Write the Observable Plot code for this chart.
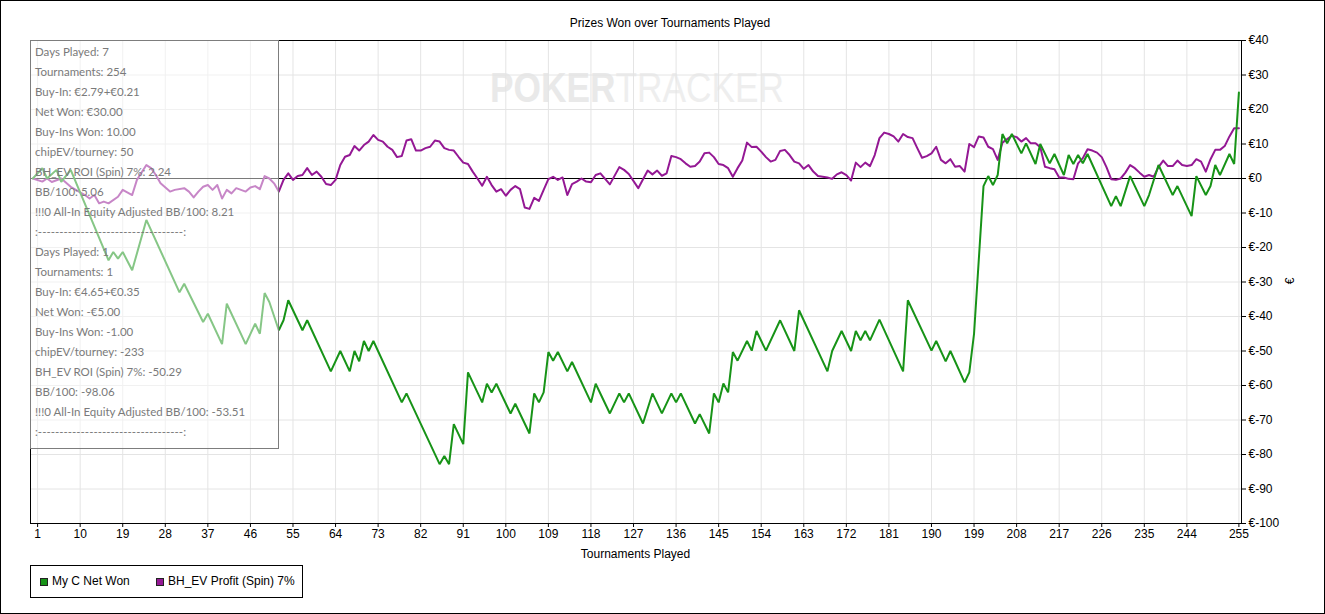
<!DOCTYPE html>
<html>
<head>
<meta charset="utf-8">
<script src="https://cdn.jsdelivr.net/npm/d3@7"></script>
<script src="https://cdn.jsdelivr.net/npm/@observablehq/plot@0.6"></script>
<style>
  html, body { margin: 0; padding: 0; background: #fff; }
  #wrap { position: relative; width: 1325px; height: 614px; overflow: hidden; background: #fff; font-family: "Liberation Sans", Arial, sans-serif; }
  #wrap .abs { position: absolute; }
  #border { left: 0; top: 0; width: 1323px; height: 612px; border: 1px solid #000; pointer-events: none; z-index: 10; }
  #title { top: 16px; left: 0; width: 1340px; text-align: center; font-size: 12px; color: #000; }
  #xlabel { top: 547px; left: 30px; width: 1211px; text-align: center; font-size: 12px; color: #000; }
  #ylabel { left: 1287px; top: 274px; font-size: 12px; transform: rotate(-90deg); transform-origin: center; }
  #watermark { left: 490px; top: 64px; font-size: 42px; white-space: nowrap; transform: scaleX(0.84); transform-origin: left top; z-index: 0; }
  #chart { left: 0; top: 0; z-index: 1; }
  #tip { left: 30px; top: 40px; width: 249px; height: 409px; background: rgba(255,255,255,0.48); border: 1px solid #7d7d7d; z-index: 5;
         font-family: "Segoe UI", Lato, "Open Sans", sans-serif; font-size: 11.5px; color: #7a7a7a; line-height: 20px; padding: 1px 0 0 4px; box-sizing: border-box; white-space: nowrap; }
  #legend { left: 30px; top: 565px; width: 273px; height: 33px; border: 1px solid #000; box-sizing: border-box; font-size: 12px; z-index: 5; }
  .sw { position: absolute; top: 12px; width: 8px; height: 8px; border: 1px solid #222; box-sizing: border-box; }
  .lt { position: absolute; top: 8px; white-space: nowrap; }
</style>
</head>
<body>
<div id="wrap">
  <div id="watermark" class="abs"><span style="font-weight:bold;color:#e9e9e9">POKER</span><span style="color:#eeeeee">TRACKER</span></div>
  <div id="chart" class="abs"></div>
  <div id="title" class="abs">Prizes Won over Tournaments Played</div>
  <div id="xlabel" class="abs">Tournaments Played</div>
  <div id="ylabel" class="abs">€</div>
  <div id="tip" class="abs"></div>
  <div id="legend" class="abs"></div>
  <div id="border" class="abs"></div>
</div>
<script>
// ---- Data ----
const seriesNames = ["My C Net Won", "BH_EV Profit (Spin) 7%"];
const seriesColors = ["#179317", "#941894"];

const xTicks = [1,10,19,28,37,46,55,64,73,82,91,100,109,118,127,136,145,154,163,172,181,190,199,208,217,226,235,244,255];
const yTicks = [40,30,20,10,0,-10,-20,-30,-40,-50,-60,-70,-80,-90,-100];

const netWonTournament = [0,2,3,5,6,8,16,17,18,19,21,24,31,32,36,37,40,41,45,47,48,49,50,52,53,54,57,58,63,65,67,68,69,70,71,72,78,79,86,87,88,89,91,92,95,96,97,98,101,102,105,106,107,108,109,110,111,113,114,118,119,122,124,125,126,129,131,133,135,136,137,140,141,143,144,145,146,147,148,149,151,152,153,155,158,161,162,168,169,171,173,174,175,176,177,179,184,185,190,191,193,194,197,198,199,201,202,203,204,205,206,207,209,210,212,213,215,216,218,219,220,221,222,223,228,229,230,232,235,236,238,241,242,245,246,248,249,250,251,253,254,255];
const netWonValue = [0,3,0,2.5,-1,2.5,-23.7,-21.3,-23.2,-21.3,-26.6,-12,-33,-30.5,-41.6,-39.2,-48,-36.3,-48,-42.1,-45,-33.2,-35.8,-44,-41.1,-35.3,-44,-41.1,-55.9,-50,-55.9,-50,-53,-47.1,-50,-47.1,-64.9,-62.3,-82.8,-80.4,-82.8,-71.2,-77,-56.2,-64.9,-59.5,-62,-59.5,-68.1,-65.3,-73.9,-62.3,-64.9,-62,-50.3,-52.8,-50.3,-55.9,-53.2,-64.9,-59.5,-68.1,-62.3,-64.9,-62.3,-71,-62.3,-68.1,-62.3,-64.9,-62.3,-71,-68.3,-73.9,-62.3,-64.9,-59.4,-62,-50.3,-52.8,-47.1,-49.9,-44.2,-49.9,-41.1,-50,-38.2,-55.9,-50,-44.2,-50,-44.2,-46.9,-44.2,-46.9,-40.9,-55.9,-35.3,-49.9,-47.1,-53,-50,-59.1,-56.2,-45,-2.2,0.7,-1.9,1,12.9,10.2,12.9,7.3,10.2,4.2,10,4.4,7.1,1,6.8,4.2,6.8,4.4,7.1,-8,-5.1,-8,0.7,-8,-4.8,3.9,-4.8,-2.2,-10.9,0.7,-4.8,-2.2,3.9,1,7.1,4.2,24.9];

const evTournament = [0,2,3,4,6,8,10,11,12,13,14,15,16,18,19,21,22,24,25,26,27,29,30,32,33,34,35,36,37,38,39,40,41,42,43,45,46,47,48,49,50,51,52,53,54,55,56,57,58,59,60,61,62,63,64,65,66,67,68,69,70,71,72,73,74,75,76,77,78,79,80,81,82,83,84,85,86,87,88,89,90,91,92,93,94,95,96,97,98,99,100,101,102,103,104,105,106,107,108,109,110,111,112,113,114,115,116,117,118,119,120,122,124,125,126,128,130,131,132,133,134,135,136,137,138,139,140,141,142,143,144,145,146,147,148,149,150,151,152,153,154,155,156,157,158,159,160,161,162,163,164,165,166,167,168,169,170,171,172,173,174,175,176,177,178,179,180,181,182,183,184,185,186,187,188,189,190,191,192,193,194,195,196,197,198,199,200,201,202,203,204,205,206,207,208,209,210,211,212,213,214,215,216,217,218,219,220,221,222,223,224,225,226,227,228,229,230,231,232,233,234,235,236,237,238,239,240,241,242,243,244,245,246,247,248,249,250,251,252,253,254,255];
const evValue = [0,-0.9,0,-1,0,-2.4,-4,-4.8,-5.8,-4.8,-7.2,-6.7,-7.2,-5.3,-3.3,-4.8,-0.4,3.9,3,1,-1.4,-3.8,-3.3,-2.8,-3.8,-5.5,-3.8,-2.4,-1.9,-3.3,-1.9,-5.8,-3.3,-4.3,-2.8,-3.8,-2.6,-2.2,-3.1,0.7,0,-1.4,-3.8,-0.4,1.5,-0.4,0.7,1,3,1,2,0.5,-1.6,-1.9,-0.4,3.9,6.3,6.8,9.4,8.1,9.7,10.7,12.6,11.2,10.7,9.2,8.3,6.2,6.5,11,11.4,8.1,8.1,8.8,9.2,11,10.7,8.8,8.3,8.1,6.3,4.6,4.2,2,0,-2.1,0.5,-1.9,-3.8,-3.1,-5,-3.3,-2.2,-3.1,-8.4,-8.8,-5.6,-6.5,-3.3,-0.2,0.5,-0.4,0.3,-4.8,-1.6,-0.9,0,-0.9,-1.1,1,1.5,-1.7,3.3,2.5,1.3,-2.8,2.3,1.2,2.3,0.8,1.5,6.5,6.2,5.6,4.4,3.4,3.6,4.9,7.3,7.5,6.2,4.2,3.9,3,0.5,3,5.2,10.4,9.1,9.2,7.8,6.2,4.9,5.4,8,8.3,6.8,4.9,4.4,2.8,3.9,2,0.7,0.5,0.3,-0.1,1.2,1.8,1,-0.6,4.6,3.3,4.6,3.6,6.8,11.7,13.3,12.9,12.2,10.7,12.9,12,11.7,8.8,6,6.5,7.3,9.2,5.4,4.4,5.6,3.4,3.6,2,10,9.1,12.2,11.9,9.2,8.5,5.4,10.4,11.4,12.4,12,10.7,11.7,10.2,10.2,9.1,3.4,3,2.7,0.3,0.3,-0.1,-0.2,4.4,5.9,8.5,8.1,7.5,6.2,3.3,-0.2,-0.4,0,1.7,3.9,3,1.7,0.5,1,0.5,3.3,5.2,3.6,3.6,5.2,3.9,3.6,3.9,5.6,4.9,2,5.6,8.3,8.3,9.4,12.2,14.6,14.6];

const tipLines = [
  "Days Played: 7", "Tournaments: 254", "Buy-In: €2.79+€0.21", "Net Won: €30.00", "Buy-Ins Won: 10.00",
  "chipEV/tourney: 50", "BH_EV ROI (Spin) 7%: 2.24", "BB/100: 5.06", "!!!0 All-In Equity Adjusted BB/100: 8.21",
  ":" + "-".repeat(34) + ":",
  "Days Played: 1", "Tournaments: 1", "Buy-In: €4.65+€0.35", "Net Won: -€5.00", "Buy-Ins Won: -1.00",
  "chipEV/tourney: -233", "BH_EV ROI (Spin) 7%: -50.29", "BB/100: -98.06", "!!!0 All-In Equity Adjusted BB/100: -53.51",
  ":" + "-".repeat(34) + ":"
];

// ---- Build tables ----
const netWon = netWonTournament.map((t, i) => ({t, v: netWonValue[i]}));
const ev = evTournament.map((t, i) => ({t, v: evValue[i]}));

const chart = Plot.plot({
  width: 1325,
  height: 614,
  marginLeft: 30,
  marginRight: 84,
  marginTop: 40,
  marginBottom: 91,
  style: {background: "transparent", fontFamily: "'Liberation Sans', Arial, sans-serif", fontSize: "12px", color: "#000", overflow: "visible"},
  x: {domain: [-0.5, 255.55]},
  y: {domain: [-100, 40]},
  marks: [
    Plot.gridX(xTicks, {stroke: "#e4e4e4", strokeOpacity: 1}),
    Plot.gridY(yTicks, {stroke: "#e4e4e4", strokeOpacity: 1}),
    Plot.ruleY([0], {stroke: "#000", strokeWidth: 1}),
    Plot.line(ev, {x: "t", y: "v", stroke: seriesColors[1], strokeWidth: 2, strokeLinejoin: "round"}),
    Plot.line(netWon, {x: "t", y: "v", stroke: seriesColors[0], strokeWidth: 2, strokeLinejoin: "miter"}),
    Plot.frame({stroke: "#000", strokeWidth: 1}),
    Plot.axisX(xTicks, {anchor: "bottom", tickSize: 4, tickPadding: 2, label: null, fontSize: 12, tickFormat: d => String(d)}),
    Plot.axisY(yTicks, {anchor: "right", tickSize: 4, tickPadding: 3, label: null, fontSize: 12, tickFormat: d => "€" + d})
  ]
});
document.getElementById("chart").appendChild(chart);

// tooltip panel
const tip = document.getElementById("tip");
tipLines.forEach(s => { const d = document.createElement("div"); d.textContent = s; tip.appendChild(d); });

// legend
const legend = document.getElementById("legend");
const swX = [9, 125];
const txX = [21, 137];
seriesNames.forEach((name, i) => {
  const sw = document.createElement("div");
  sw.className = "sw"; sw.style.left = swX[i] + "px"; sw.style.background = seriesColors[i];
  legend.appendChild(sw);
  const lt = document.createElement("div");
  lt.className = "lt"; lt.style.left = txX[i] + "px"; lt.textContent = name;
  legend.appendChild(lt);
});
</script>
</body>
</html>
